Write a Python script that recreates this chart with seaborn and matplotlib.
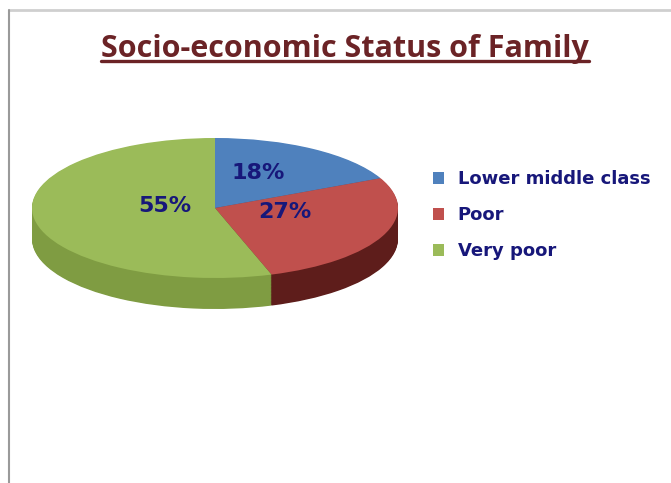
import matplotlib
matplotlib.use("Agg")
import matplotlib.pyplot as plt
from matplotlib.lines import Line2D
import seaborn as sns

categories = ["Lower middle class", "Poor", "Very poor"]
values = [18, 27, 55]
pct_labels = ["18%", "27%", "55%"]
title = "Socio-economic Status of Family"

top_colors = ["#4f81bd", "#c0504d", "#9bbb59"]
side_colors = ["#2f5a8a", "#5e1d1b", "#7f9c42"]
text_navy = "#17177a"

sns.set_theme(style="white")
plt.rcParams["font.family"] = ["DejaVu Sans"]

W, H = 671, 483
fig = plt.figure(figsize=(W / 100, H / 100), dpi=100)
fig.patch.set_facecolor("white")

# pie geometry in pixels
cx, cy, rx, ry, depth = 215, 208, 183, 70, 31
xl = (-1.1, 1.1)
yl = (-1.75, 1.2)
left_px = cx - 1.1 * rx
width_px = 2.2 * rx
top_px = cy - yl[1] * ry
height_px = (yl[1] - yl[0]) * ry
ax = fig.add_axes([left_px / W, (H - top_px - height_px) / H, width_px / W, height_px / H])

d_units = depth / ry
n_layers = 40
for k in range(n_layers, 0, -1):
    off = d_units * k / n_layers
    ax.pie(values, colors=side_colors, startangle=90, counterclock=False,
           center=(0, -off), radius=1, wedgeprops=dict(linewidth=0))
wedges, _ = ax.pie(values, colors=top_colors, startangle=90, counterclock=False,
                   center=(0, 0), radius=1, wedgeprops=dict(linewidth=0))
ax.set_aspect("auto")
ax.set_xlim(*xl)
ax.set_ylim(*yl)
ax.axis("off")

# percentage labels (pixel positions converted to data units)
label_px = [(258, 173), (285, 212), (165, 206)]
for (px, py), t in zip(label_px, pct_labels):
    ax.text((px - cx) / rx, (cy - py) / ry, t, ha="center", va="center",
            fontsize=16, fontweight="bold", color=text_navy)

# legend
leg = fig.legend(wedges, categories, loc="upper left",
                 bbox_to_anchor=(417 / W, 1 - 154 / H), frameon=False,
                 handlelength=0.6, handleheight=0.6, handletextpad=0.75,
                 labelspacing=1.0, labelcolor=text_navy,
                 prop=dict(size=13, weight="bold"))

# title with underline
t = fig.text(345 / W, 1 - 49 / H, title, ha="center", va="center",
             fontsize=22, fontweight="bold", color="#6b2326",
             family=["Open Sans", "DejaVu Sans"])
fig.canvas.draw()
bb = t.get_window_extent()
uy = (bb.y0 + 3) / H
fig.add_artist(Line2D([bb.x0 / W, bb.x1 / W], [uy, uy], color="#6b2326", lw=2.4,
                      transform=fig.transFigure))

# border lines
fig.add_artist(Line2D([9 / W, 1], [1 - 10 / H, 1 - 10 / H], color="#cfcfcf", lw=2,
                      transform=fig.transFigure))
fig.add_artist(Line2D([9 / W, 9 / W], [0, 1 - 10 / H], color="#9a9a9a", lw=1.5,
                      transform=fig.transFigure))

fig.savefig("out.png", dpi=100, facecolor="white")
